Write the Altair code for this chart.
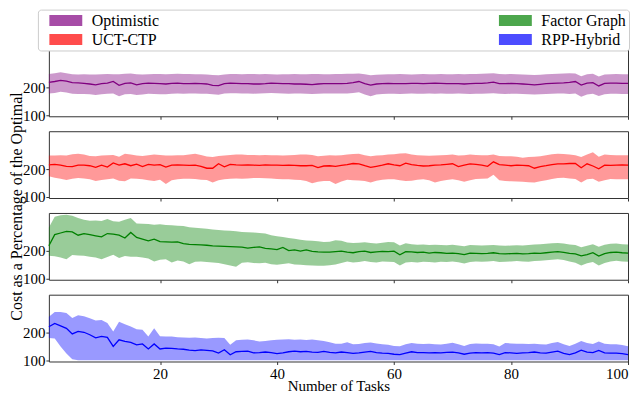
import altair as alt
import pandas as pd

tasks = list(range(1, 101))
legend_order = ["Optimistic", "UCT-CTP", "Factor Graph", "RPP-Hybrid"]
line_colors = ["#800080", "#ff0000", "#008000", "#0000ff"]

opt_mean = [218, 221, 225, 222, 217, 216, 214, 212, 209, 213,
            215, 221, 207, 214, 216, 209, 213, 215, 214, 213,
            212, 214, 215, 213, 213, 214, 213, 212, 207, 206,
            213, 215, 214, 213, 213, 212, 212, 213, 215, 214,
            213, 213, 212, 212, 211, 210, 212, 213, 213, 213,
            213, 214, 217, 221, 213, 208, 212, 213, 214, 213,
            213, 213, 214, 214, 213, 214, 215, 214, 213, 213,
            213, 212, 213, 214, 214, 216, 219, 213, 213, 214,
            213, 212, 211, 209, 211, 213, 214, 215, 216, 218,
            221, 208, 215, 217, 205, 214, 215, 215, 214, 214]
opt_hi = [248, 251, 254, 251, 247, 246, 247, 246, 246, 247,
          248, 247, 247, 249, 250, 247, 246, 247, 248, 248,
          247, 248, 249, 248, 248, 247, 247, 246, 244, 243,
          246, 248, 248, 247, 248, 248, 247, 248, 247, 246,
          247, 247, 248, 247, 247, 248, 248, 247, 247, 248,
          248, 249, 249, 250, 247, 243, 245, 246, 247, 247,
          248, 247, 246, 247, 248, 247, 247, 248, 247, 247,
          248, 247, 248, 248, 249, 250, 251, 248, 247, 248,
          247, 246, 245, 244, 245, 247, 248, 249, 250, 251,
          250, 240, 247, 249, 239, 246, 247, 248, 247, 247]
opt_lo = [178, 180, 184, 181, 177, 176, 176, 175, 172, 175,
          177, 178, 168, 175, 176, 172, 174, 177, 176, 175,
          175, 177, 178, 177, 178, 178, 177, 177, 175, 173,
          178, 179, 179, 178, 178, 177, 178, 179, 180, 179,
          178, 177, 178, 178, 177, 176, 177, 178, 178, 178,
          178, 178, 180, 182, 174, 168, 174, 176, 177, 177,
          176, 177, 178, 177, 177, 178, 177, 178, 177, 177,
          178, 177, 176, 177, 177, 178, 179, 177, 176, 177,
          177, 176, 175, 174, 175, 176, 177, 178, 178, 176,
          178, 166, 174, 177, 169, 175, 177, 177, 176, 176]

uct_mean = [215, 217, 214, 210, 209, 214, 214, 212, 206, 214,
            207, 222, 214, 219, 212, 218, 209, 217, 214, 216,
            207, 214, 215, 214, 213, 214, 210, 203, 203, 219,
            208, 217, 215, 214, 215, 214, 213, 215, 214, 214,
            213, 214, 213, 212, 212, 213, 205, 211, 212, 210,
            213, 216, 220, 219, 212, 206, 210, 214, 219, 215,
            212, 221, 216, 213, 211, 212, 214, 215, 217, 219,
            209, 214, 219, 217, 214, 210, 226, 216, 214, 212,
            214, 213, 212, 203, 209, 212, 216, 219, 219, 220,
            220, 205, 219, 211, 201, 214, 213, 214, 215, 214]
uct_hi = [249, 249, 250, 249, 253, 255, 252, 247, 246, 249,
          250, 251, 244, 255, 252, 249, 247, 250, 252, 251,
          249, 249, 250, 250, 252, 255, 251, 245, 243, 247,
          249, 251, 252, 252, 251, 251, 250, 251, 250, 250,
          249, 250, 251, 252, 252, 251, 246, 248, 250, 249,
          250, 252, 254, 255, 250, 246, 249, 250, 252, 253,
          256, 257, 252, 250, 249, 248, 249, 250, 251, 252,
          249, 250, 252, 251, 250, 250, 252, 247, 246, 246,
          244, 241, 243, 244, 246, 250, 253, 255, 254, 252,
          250, 243, 252, 260, 244, 252, 251, 250, 250, 250]
uct_lo = [174, 169, 165, 161, 165, 168, 166, 163, 157, 161,
          163, 166, 158, 156, 166, 165, 163, 160, 157, 162,
          146, 160, 163, 165, 165, 164, 162, 161, 152, 160,
          163, 165, 166, 165, 166, 168, 168, 167, 166, 164,
          163, 163, 162, 161, 157, 149, 154, 157, 157, 146,
          155, 162, 160, 159, 157, 152, 158, 162, 163, 163,
          160, 157, 158, 162, 163, 160, 152, 157, 161, 163,
          160, 154, 160, 164, 165, 166, 180, 160, 157, 156,
          155, 154, 153, 152, 156, 160, 164, 168, 169, 166,
          164, 152, 163, 165, 154, 160, 164, 163, 163, 163]

fg_mean = [218, 258, 264, 270, 268, 256, 262, 258, 254, 250,
           262, 260, 256, 246, 266, 248, 242, 236, 242, 233,
           232, 231, 232, 226, 223, 222, 221, 220, 218, 217,
           216, 215, 214, 213, 210, 212, 214, 209, 207, 204,
           212, 201, 203, 199, 203, 198, 196, 195, 195, 197,
           199, 195, 193, 197, 199, 194, 196, 198, 197, 199,
           186, 197, 196, 194, 195, 192, 194, 193, 191, 192,
           190, 186, 192, 191, 190, 191, 193, 190, 189, 190,
           191, 189, 190, 192, 191, 193, 195, 197, 194, 191,
           189, 182, 186, 193, 181, 190, 194, 195, 193, 192]
fg_hi = [284, 322, 328, 330, 326, 318, 312, 308, 309, 307,
         314, 306, 304, 312, 318, 298, 297, 296, 294, 295,
         293, 292, 290, 289, 285, 283, 281, 279, 277, 275,
         273, 272, 270, 268, 267, 266, 264, 262, 256, 252,
         250, 246, 243, 240, 237, 236, 234, 232, 233, 238,
         236, 230, 228, 229, 231, 228, 226, 229, 232, 231,
         219, 227, 224, 222, 223, 221, 222, 221, 220, 222,
         219, 216, 221, 220, 219, 220, 221, 219, 218, 219,
         220, 219, 221, 223, 224, 225, 227, 228, 226, 223,
         221, 213, 218, 224, 215, 222, 225, 226, 224, 223]
fg_lo = [182, 180, 176, 170, 185, 183, 182, 179, 176, 170,
         178, 186, 174, 181, 179, 179, 176, 172, 162, 168,
         170, 158, 165, 162, 152, 161, 162, 160, 158, 156,
         152, 147, 143, 157, 159, 156, 155, 157, 152, 150,
         153, 155, 151, 150, 148, 147, 146, 146, 148, 151,
         156, 162, 158, 160, 163, 160, 158, 162, 161, 160,
         147, 158, 160, 158, 161, 160, 158, 161, 160, 162,
         159, 154, 160, 162, 161, 162, 163, 160, 161, 162,
         163, 162, 161, 163, 164, 166, 168, 170, 167, 162,
         157, 147, 155, 160, 147, 156, 162, 164, 162, 161]

rpp_mean = [221, 233, 224, 215, 195, 204, 201, 192, 181, 186,
            183, 150, 174, 168, 165, 156, 159, 141, 159, 141,
            144, 143, 141, 140, 137, 135, 138, 136, 134, 126,
            138, 120, 131, 132, 133, 127, 128, 130, 128, 124,
            127, 131, 133, 131, 132, 130, 129, 132, 129, 127,
            130, 128, 125, 127, 130, 132, 128, 126, 125, 122,
            121, 126, 131, 128, 128, 127, 128, 127, 129, 130,
            127, 122, 126, 128, 127, 128, 126, 121, 128, 127,
            125, 127, 128, 130, 127, 126, 130, 133, 125, 121,
            127, 137, 130, 128, 136, 127, 126, 126, 124, 121]
rpp_hi = [257, 274, 274, 270, 252, 262, 259, 251, 243, 245,
          234, 204, 239, 230, 222, 212, 210, 186, 215, 187,
          186, 186, 183, 182, 181, 182, 180, 179, 180, 181,
          180, 156, 172, 174, 175, 172, 168, 170, 172, 174,
          175, 176, 174, 175, 173, 175, 172, 170, 165, 160,
          160, 165, 158, 159, 162, 164, 161, 158, 156, 152,
          151, 158, 162, 160, 159, 160, 158, 157, 160, 163,
          158, 152, 159, 161, 160, 160, 158, 150, 162, 161,
          160, 160, 159, 160, 158, 157, 162, 166, 158, 152,
          160, 170, 162, 159, 168, 160, 158, 158, 155, 151]
rpp_lo = [180, 179, 150, 125, 104, 100, 100, 100, 100, 100,
          100, 100, 100, 100, 100, 100, 100, 100, 100, 100,
          100, 100, 100, 100, 100, 100, 100, 100, 100, 100,
          100, 100, 100, 100, 100, 100, 100, 100, 100, 100,
          100, 100, 100, 100, 100, 100, 100, 100, 100, 100,
          100, 100, 100, 100, 100, 100, 100, 100, 100, 100,
          100, 100, 100, 100, 100, 100, 100, 100, 100, 100,
          100, 100, 100, 100, 100, 100, 100, 100, 100, 100,
          100, 100, 100, 100, 100, 100, 100, 100, 100, 100,
          100, 100, 100, 100, 100, 100, 100, 100, 100, 100]

FONT = "Liberation Serif"
color_scale = alt.Scale(domain=legend_order, range=line_colors)

legend = alt.Legend(
    title=None, orient="none", legendX=-11, legendY=-40, columns=2,
    columnPadding=332, rowPadding=3, padding=3,
    symbolType="M-3,-1H3V1H-3Z", symbolSize=121, symbolOffset=17,
    labelOffset=18, symbolOpacity=0.7, symbolStrokeWidth=0,
    labelFont=FONT, labelFontSize=16, labelColor="black", labelLimit=300,
    fillColor="white", strokeColor="#cccccc", cornerRadius=3,
    values=legend_order,
)


def panel(name, mean, lo, hi, bottom=False, ytitle=False):
    df = pd.DataFrame({"tasks": tasks, "mean": mean, "lo": lo, "hi": hi,
                       "method": [name] * len(tasks)})
    xaxis = alt.Axis(values=[20, 40, 60, 80, 100], labels=bottom, tickSize=3,
                     labelFont=FONT, labelFontSize=15, labelColor="black",
                     labelPadding=2, titleFont=FONT, titleFontSize=15,
                     titleFontWeight="normal", titleColor="black", titlePadding=-3)
    yargs = dict(values=[100, 200], tickSize=3, labelFont=FONT, labelFontSize=15,
                 labelColor="black", labelPadding=1)
    if ytitle:
        yargs.update(titleFont=FONT, titleFontSize=16, titleFontWeight="normal",
                     titleColor="black", titleX=-27, titleY=75, titleAngle=270,
                     titleAlign="center", titleBaseline="alphabetic")
    yaxis = alt.Axis(**yargs)
    x = alt.X("tasks:Q", scale=alt.Scale(domain=[1, 100], nice=False, zero=False),
              axis=xaxis, title="Number of Tasks" if bottom else None)
    yscale = alt.Scale(domain=[96, 336], nice=False, zero=False)
    area = alt.Chart(df).mark_area(opacity=0.4).encode(
        x=x,
        y=alt.Y("lo:Q", scale=yscale, axis=yaxis,
                title="Cost as a Percentage of the Optimal" if ytitle else None),
        y2="hi:Q",
        color=alt.Color("method:N", scale=color_scale, legend=legend),
    )
    line = alt.Chart(df).mark_line(strokeWidth=1.3).encode(
        x=x,
        y=alt.Y("mean:Q", scale=yscale),
        stroke=alt.Stroke("method:N", scale=color_scale, legend=None),
    )
    return alt.layer(area, line).properties(width=581, height=67)


chart = alt.vconcat(
    panel("Optimistic", opt_mean, opt_lo, opt_hi),
    panel("UCT-CTP", uct_mean, uct_lo, uct_hi, ytitle=True),
    panel("Factor Graph", fg_mean, fg_lo, fg_hi),
    panel("RPP-Hybrid", rpp_mean, rpp_lo, rpp_hi, bottom=True),
    spacing=15, bounds="flush", padding=0,
).configure(font=FONT).configure_view(
    stroke="#333333", strokeWidth=1
).configure_axis(grid=False, domain=False, tickColor="#333333")

chart.save("out.html", embed_options={"renderer": "svg", "actions": False})
